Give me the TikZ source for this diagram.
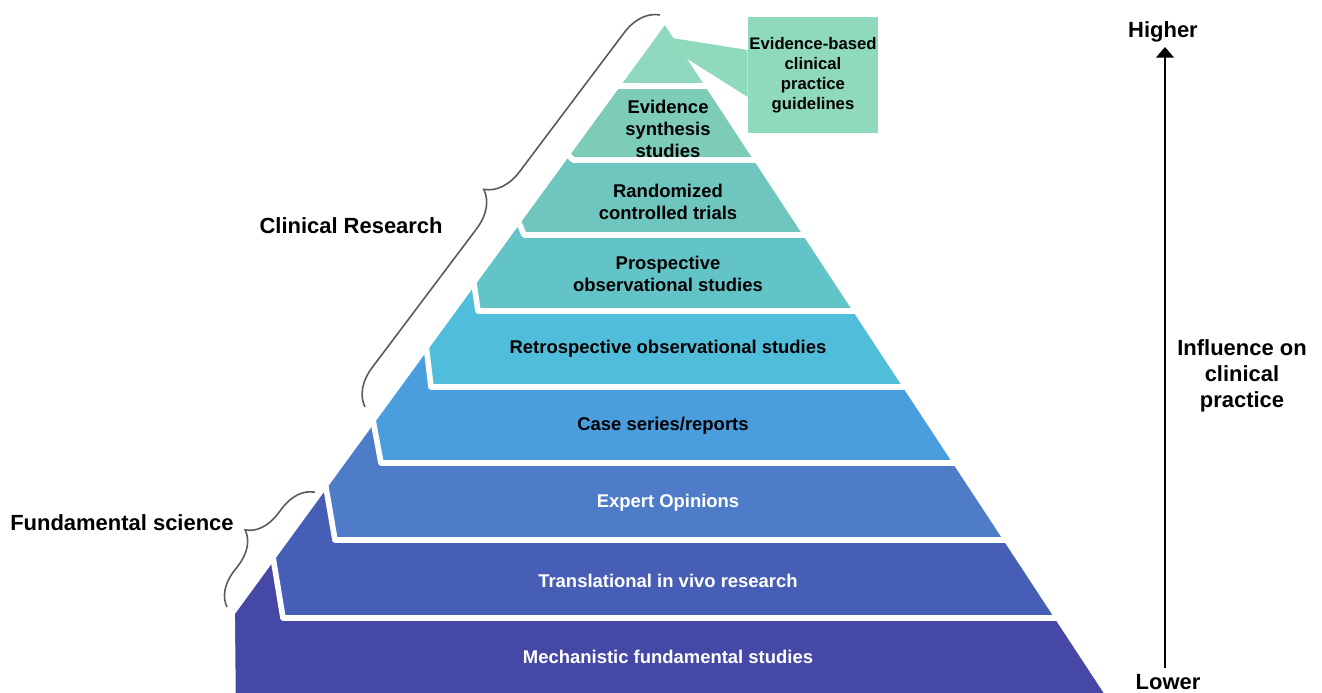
\documentclass[tikz,border=0pt]{standalone}
\usepackage{fontspec}
\setmainfont{Liberation Sans}
\usepackage{tikz}
\usetikzlibrary{arrows.meta}
\usetikzlibrary{decorations.pathreplacing}
\usetikzlibrary{positioning}
\definecolor{tierTop}{RGB}{143,216,190}
\definecolor{tierSynth}{RGB}{124,204,184}
\definecolor{tierRct}{RGB}{110,198,190}
\definecolor{tierProsp}{RGB}{99,196,200}
\definecolor{tierRetro}{RGB}{80,190,218}
\definecolor{tierCase}{RGB}{74,158,222}
\definecolor{tierExpert}{RGB}{78,124,200}
\definecolor{tierTrans}{RGB}{70,94,182}
\definecolor{tierMech}{RGB}{70,72,165}
\definecolor{boxmint}{RGB}{143,217,188}
\tikzset{tier/.style = {draw=white, line width=3.2pt, line join=round}}
\tikzset{tiertext/.style = {font=\bfseries\fontsize{10.5}{12.5}\selectfont, align=center, inner sep=0}}
\tikzset{sidelabel/.style = {font=\bfseries\fontsize{12.5}{14.7}\selectfont, align=center, inner sep=0}}
\tikzset{curly/.style = {draw=black!65, line width=0.9pt, decorate, decoration={brace, amplitude=0.72cm}}}

\begin{document}
\begin{tikzpicture}[x=0.02cm, y=-0.02cm]
        \useasboundingbox (0,0) rectangle (1322,693);
        % pyramid tiers, bottom first: left cut point / bottom-left x / bottom y
        \foreach \yp/\xb/\yb/\col in {613/233/700/tierMech, 557/283/618/tierTrans, 485/335/540/tierExpert,
                420/381/463/tierCase, 347/431/387/tierRetro, 282/478/311/tierProsp,
                221/524/235/tierRct, 154/573/160/tierSynth}
            \filldraw [tier, fill=\col] ({665-0.73*(\yp-20)},\yp) -- (665,20) -- ({665+0.657*(\yb-20)},\yb) -- (\xb,\yb) -- cycle;
        \filldraw [tier, fill=tierTop] (665,20) -- ({665+0.657*66},86) -- ({665-0.73*66},86) -- cycle;

        % callout box
        \node[fill=boxmint, minimum width=2.6cm, minimum height=2.32cm, inner sep=0, text width=2.6cm, align=center,
              font=\bfseries\fontsize{9.5}{11.4}\selectfont] (guide) at (813,75) {Evidence-based\\clinical\\practice\\guidelines};
        \fill [boxmint] (672,38) -- (guide.west |- 0,50) -- (guide.west |- 0,97) -- (686,58) -- cycle;

        % tier labels
        \node[tiertext] (synth) at (668,129) {Evidence\\synthesis\\studies};
        \node[tiertext] (rct) at (668,202) {Randomized\\controlled trials};
        \node[tiertext] (prosp) at (668,274) {Prospective\\observational studies};
        \node[tiertext] (retro) at (668,349) {Retrospective observational studies};
        \node[tiertext] (case) at (663,426) {Case series/reports};
        \node[tiertext, white] (expert) at (668,503) {Expert Opinions};
        \node[tiertext, white] (trans) at (668,581) {Translational in vivo research};
        \node[tiertext, white] (mech) at (668,657) {Mechanistic fundamental studies};

        % braces
        \coordinate (clinbot) at (365,407);
        \coordinate (clintop) at (660,15);
        \coordinate (fundbot) at (227,607);
        \coordinate (fundtop) at (315,492);
        \draw [curly] (clinbot) -- (clintop);
        \draw [curly, decoration={brace, amplitude=0.65cm}] (fundbot) -- (fundtop);
        \node[sidelabel, anchor=east] (clinical) at (443,226) {Clinical Research};
        \node[sidelabel, anchor=east] (fundamental) at (234,523) {Fundamental science};

        % influence axis
        \node[sidelabel] (higher) at (1163,32) {Higher};
        \node[sidelabel] (lower) at (1168,682) {Lower};
        \node[sidelabel] (influence) at (1242,376) {Influence on\\clinical\\practice};
        \coordinate (axisbot) at (1165,668);
        \coordinate (axistop) at (1165,47);
        \draw [-{Triangle[width=10pt,length=6pt]}, line width=1.1pt] (axisbot) -- (axistop);
    \end{tikzpicture}
\end{document}
